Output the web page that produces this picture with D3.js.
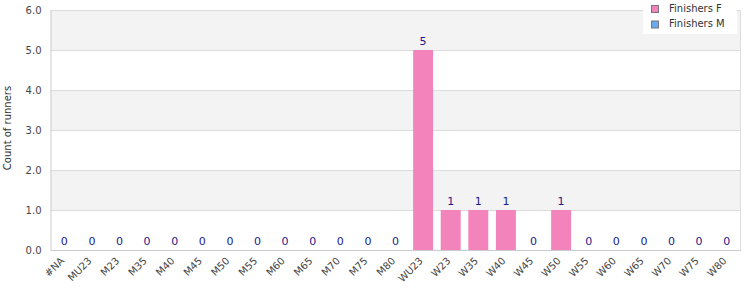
<!DOCTYPE html>
<html><head><meta charset="utf-8">
<script src="https://cdn.jsdelivr.net/npm/d3@7"></script>
<style>body{margin:0;background:#fff}svg{font-family:"DejaVu Sans",sans-serif}</style>
</head><body><svg id="c" width="750" height="300"></svg>
<script>
const categories = ["#NA","MU23","M23","M35","M40","M45","M50","M55","M60","M65","M70","M75","M80","WU23","W23","W35","W40","W45","W50","W55","W60","W65","W70","W75","W80"];
const finishersF = [0,0,0,0,0,0,0,0,0,0,0,0,0,5,1,1,1,0,1,0,0,0,0,0,0];
const finishersM = [0,0,0,0,0,0,0,0,0,0,0,0,0,0,0,0,0,0,0,0,0,0,0,0,0];
const yTicks = [0,1,2,3,4,5,6];
const seriesNames = ["Finishers F","Finishers M"];
const colors = ["#f383bb","#6aaaf0"];

const svg = d3.select("#c");
const L = 50.5, R = 740.5, T = 10, B = 250;
const x = d3.scaleBand().domain(categories).range([L, R]).paddingInner(0.277).paddingOuter(0.138);
const y = d3.scaleLinear().domain([0, 6]).range([B, T]);

// bands
for (let i = 0; i < 6; i++) {
  svg.append("rect").attr("x", L).attr("y", y(i + 1)).attr("width", R - L).attr("height", y(i) - y(i + 1))
    .attr("fill", i % 2 === 1 ? "#f3f3f3" : "#ffffff");
}
// grid
svg.append("g").selectAll("line").data(yTicks).join("line")
  .attr("x1", L).attr("x2", R).attr("y1", d => Math.round(y(d)) + 0.5).attr("y2", d => Math.round(y(d)) + 0.5)
  .attr("stroke", "#dcdcdc");
svg.append("line").attr("x1", R).attr("x2", R).attr("y1", T).attr("y2", B).attr("stroke", "#dcdcdc");

// bars
const tot = categories.map((c, i) => finishersF[i] + finishersM[i]);
svg.append("g").selectAll("rect").data(categories).join("rect")
  .attr("x", d => x(d)).attr("width", x.bandwidth())
  .attr("y", (d, i) => y(finishersF[i])).attr("height", (d, i) => y(0) - y(finishersF[i]))
  .attr("fill", colors[0]);
svg.append("g").selectAll("rect").data(categories).join("rect")
  .attr("x", d => x(d)).attr("width", x.bandwidth())
  .attr("y", (d, i) => y(tot[i])).attr("height", (d, i) => y(finishersF[i]) - y(tot[i]))
  .attr("fill", colors[1]);

// value labels
svg.append("g").selectAll("text").data(categories).join("text")
  .attr("x", d => x(d) + x.bandwidth() / 2).attr("y", (d, i) => y(tot[i]) - 5)
  .attr("text-anchor", "middle").attr("font-size", 11).attr("fill", "#1a1a8c")
  .text((d, i) => tot[i]);

// axes
const yAxis = svg.append("g").attr("transform", `translate(${L},0)`)
  .call(d3.axisLeft(y).tickValues(yTicks).tickFormat(d3.format(".1f")).tickSize(0).tickPadding(9));
yAxis.select(".domain").attr("stroke", "#cccccc");
yAxis.selectAll("text").attr("font-size", 10).attr("fill", "#444").attr("font-family", "DejaVu Sans");

const xAxis = svg.append("g").attr("transform", `translate(0,${B})`)
  .call(d3.axisBottom(x).tickSize(0).tickPadding(0));
xAxis.select(".domain").attr("stroke", "#cccccc");
xAxis.selectAll("text").attr("font-size", 10).attr("fill", "#444").attr("font-family", "DejaVu Sans")
  .attr("text-anchor", "end").attr("dy", "0.35em").attr("y", 0)
  .attr("transform", "translate(-2,9) rotate(-45)");

svg.append("text").attr("transform", `translate(7,${(T + B) / 2 - 2}) rotate(-90)`)
  .attr("text-anchor", "middle").attr("dy", "0.35em").attr("font-size", 10).attr("fill", "#333")
  .text("Count of runners");

// legend
const lg = svg.append("g");
lg.append("rect").attr("x", 643).attr("y", 0).attr("width", 94).attr("height", 34).attr("fill", "#fff");
seriesNames.forEach((n, i) => {
  lg.append("rect").attr("x", 651.5).attr("y", 5.5 + i * 15.5).attr("width", 7).attr("height", 7)
    .attr("fill", colors[i]).attr("stroke", "#777");
  lg.append("text").attr("x", 669).attr("y", 8 + i * 15.5).attr("dy", "0.35em")
    .attr("font-size", 10).attr("fill", "#333").text(n);
});
</script></body></html>
